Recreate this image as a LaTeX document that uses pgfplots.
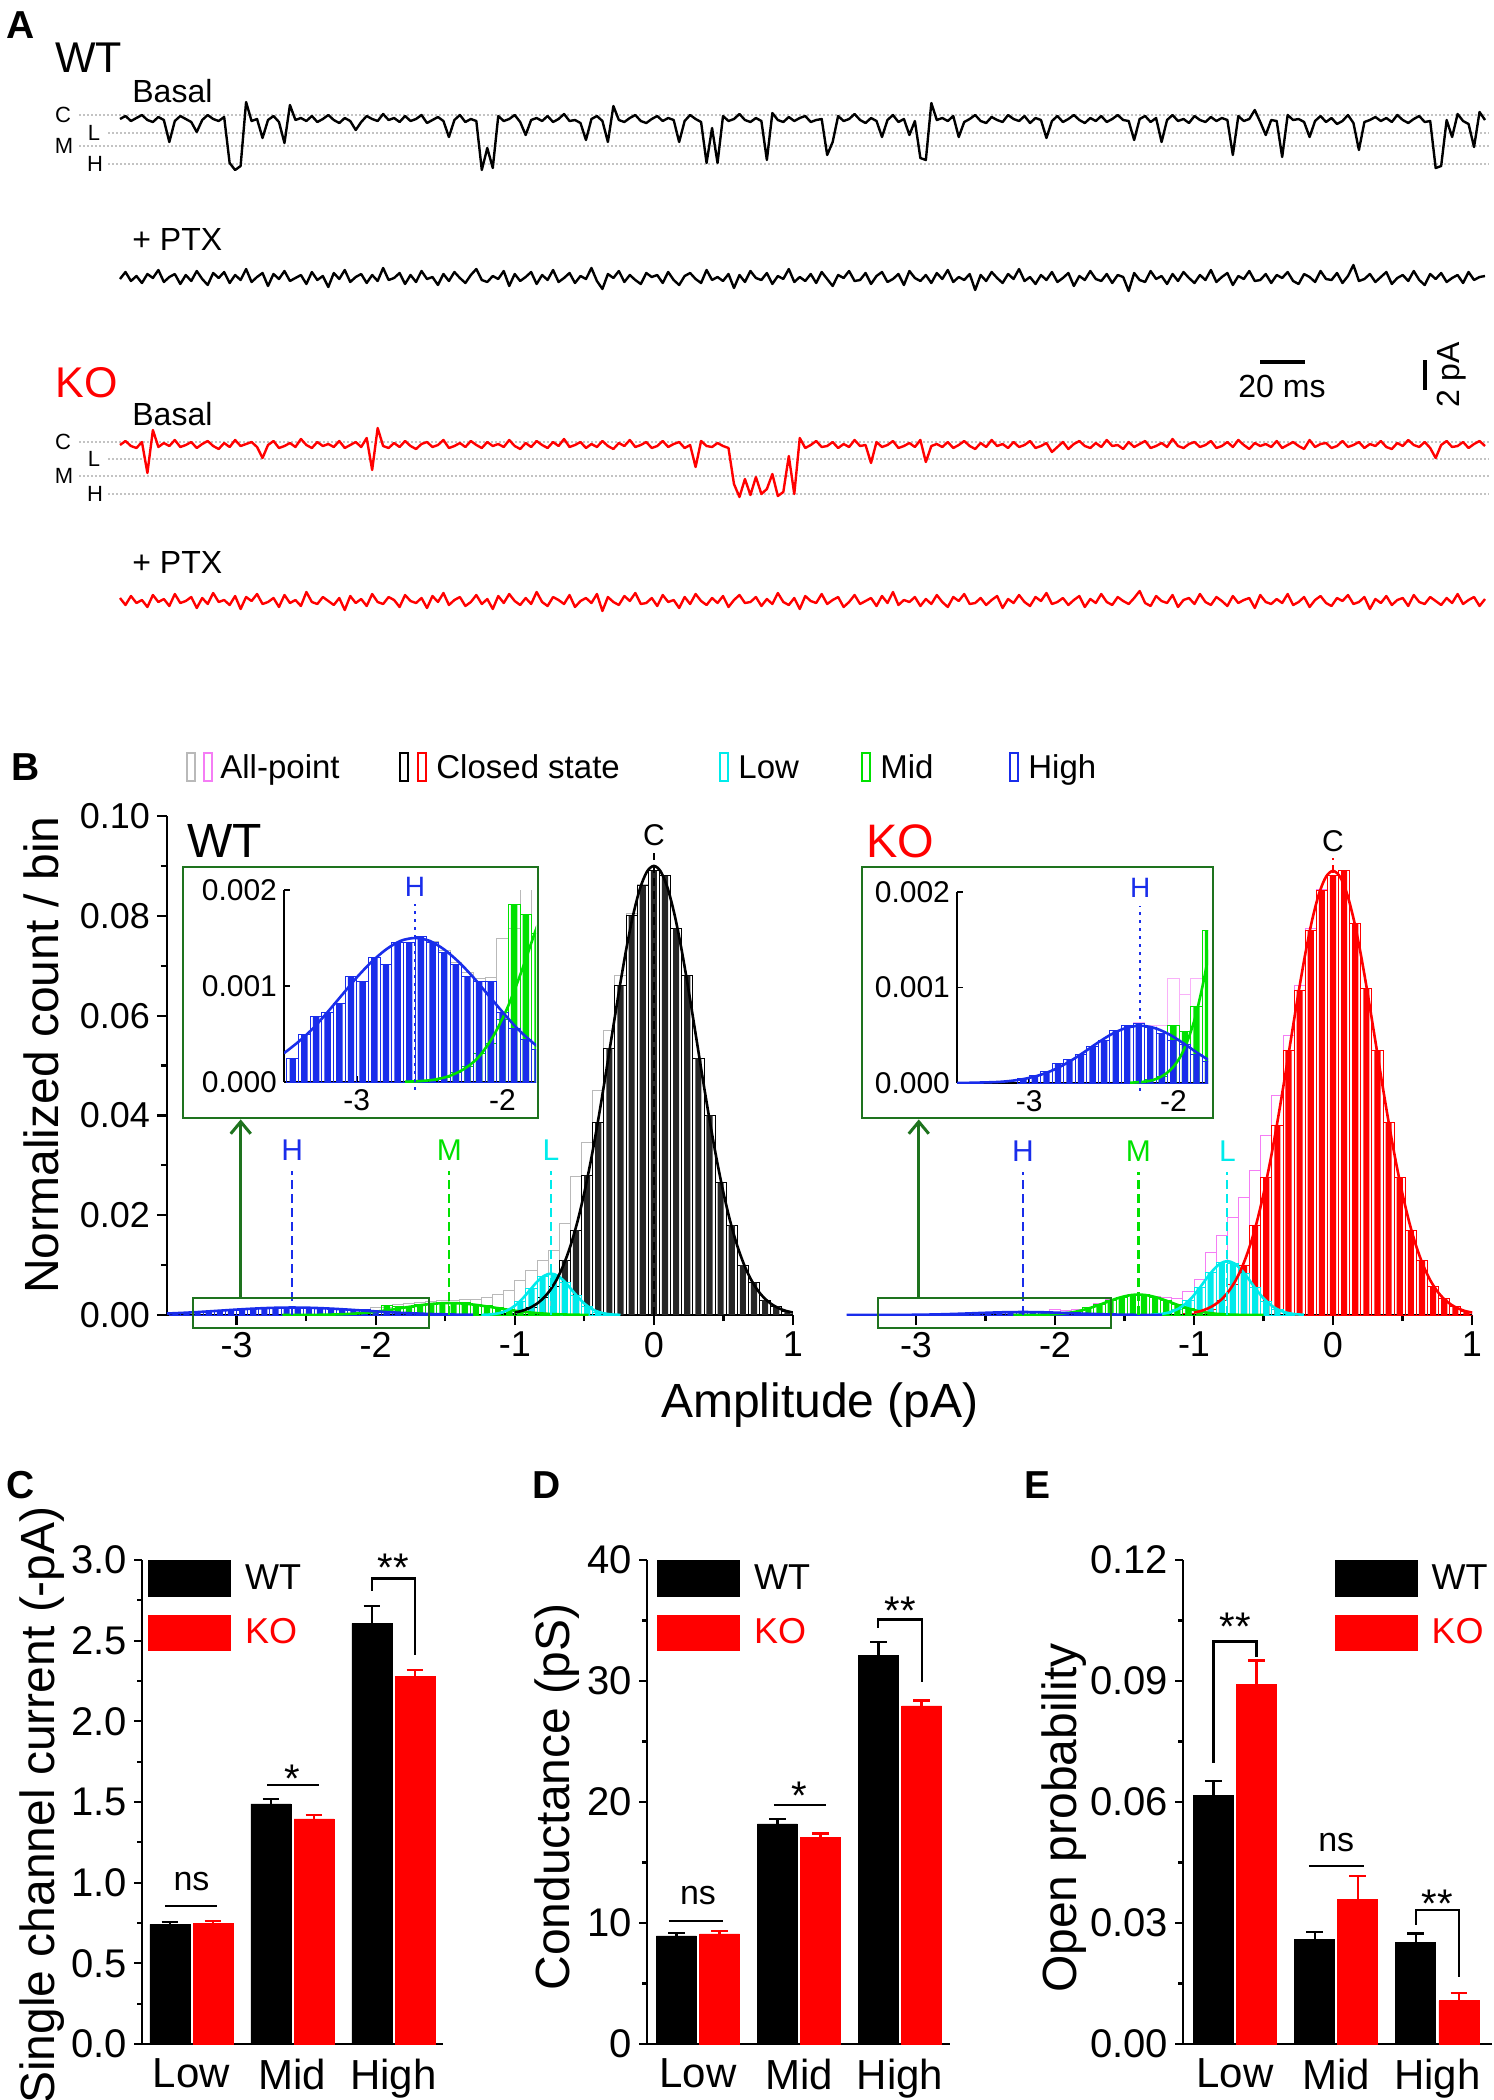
\documentclass[border=0pt]{standalone}
\usepackage{pgfplots}
\pgfplotsset{compat=1.18}
\usepackage{pgfplotstable}
\usepackage{fontspec}
\setmainfont{Liberation Sans}
\usetikzlibrary{arrows.meta}
\newcommand{\fs}[1]{\fontsize{#1}{#1}\selectfont}
\definecolor{lvl}{RGB}{195,195,195}
\definecolor{dg}{RGB}{30,115,30}
\definecolor{cy}{RGB}{0,235,235}
\definecolor{gr}{RGB}{0,225,0}
\definecolor{bl}{RGB}{25,45,235}
\definecolor{mg}{RGB}{245,125,245}
\definecolor{gy}{RGB}{185,185,185}
\pgfplotsset{
  hout/.style={ybar, bar width=0.08, bar shift=0pt, fill=none, line width=0.45pt},
  hfill/.style={ybar, bar width=0.044, bar shift=0pt, draw=none},
  fitc/.style={line width=1.3pt, smooth, no marks},
  trace/.style={anchor=north west, width=682.5pt, scale only axis, hide axis, enlarge x limits=false, y dir=reverse, clip=false},
  barpanel/.style={anchor=south west, height=242pt, scale only axis, ymin=0,
    axis x line*=bottom, axis y line*=left, axis line style={line width=1.2pt},
    xtick={0,1,2}, xticklabels={Low,Mid,High}, xtick style={draw=none},
    xticklabel style={font=\fs{21}},
    yticklabel style={font=\fs{20}}, scaled y ticks=false,
    minor y tick num=1, tick align=outside, major tick length=4pt, minor tick length=2.5pt,
    ytick style={line width=1.1pt, black}, clip=false,
    legend image code/.code={\fill[##1] (0pt,-8.85pt) rectangle (41pt,8.85pt);},
    legend style={draw=none, fill=none, inner sep=0pt, font=\fs{18}, row sep=9pt,
      /tikz/every odd column/.append style={column sep=5pt}},
    legend cell align=left},
  wtbar/.style={ybar, bar width=0.396, bar shift=0pt, fill=black, draw=black, forget plot,
    error bars/.cd, y dir=plus, y explicit, error bar style={line width=1.2pt, black},
    error mark options={rotate=90, mark size=4.2pt, line width=1.2pt, black}},
  kobar/.style={ybar, bar width=0.396, bar shift=0pt, fill=red, draw=red, forget plot,
    error bars/.cd, y dir=plus, y explicit, error bar style={line width=1.2pt, red},
    error mark options={rotate=90, mark size=4.2pt, line width=1.2pt, red}},
}
\pgfplotstableread{
x all closed low mid high
-3.44 0.00025 nan nan nan 0.00025
-3.36 0.0005 nan nan nan 0.0005
-3.28 0.00068 nan nan nan 0.00068
-3.20 0.00072 nan nan nan 0.00072
-3.12 0.00082 nan nan nan 0.00082
-3.04 0.0011 nan nan nan 0.0011
-2.96 0.00105 nan nan nan 0.00105
-2.88 0.0013 nan nan nan 0.0013
-2.80 0.00122 nan nan nan 0.00122
-2.72 0.00145 nan nan nan 0.00145
-2.64 0.00145 nan nan nan 0.00145
-2.56 0.00152 nan nan nan 0.00152
-2.48 0.00146 nan nan 0.00002 0.00145
-2.40 0.00137 nan nan 0.00005 0.00135
-2.32 0.00125 nan nan 0.0001 0.00122
-2.24 0.00114 nan nan 0.00016 0.0011
-2.16 0.00108 nan nan 0.0003 0.00105
-2.08 0.00109 nan nan 0.0004 0.00105
-2.00 0.0015 nan nan 0.00065 0.00072
-1.92 0.0016 nan nan 0.00185 0.00056
-1.84 0.0022 nan nan 0.00175 0.00044
-1.76 0.0023 nan nan 0.00155 0.00034
-1.68 0.0026 nan nan 0.0021 0.00025
-1.60 0.0028 nan nan 0.0024 0.00018
-1.52 0.0029 nan nan 0.0026 0.00012
-1.44 0.0030 nan nan 0.0023 0.00008
-1.36 0.0031 nan nan 0.0025 nan
-1.28 0.0032 nan nan 0.0021 nan
-1.20 0.0035 nan 0.0001 0.0019 nan
-1.12 0.0042 nan 0.0003 0.0016 nan
-1.04 0.0050 0.0003 0.0011 0.0012 nan
-0.96 0.0070 0.0007 0.0028 0.0009 nan
-0.88 0.0090 0.0015 0.0054 0.0006 nan
-0.80 0.0110 0.0035 0.0077 0.0004 nan
-0.72 0.0130 0.0058 0.0082 0.0002 nan
-0.64 0.0184 0.0110 0.0066 nan nan
-0.56 0.0277 0.0170 0.0040 nan nan
-0.48 0.0345 0.0280 0.0018 nan nan
-0.40 0.0450 0.0385 0.0006 nan nan
-0.32 0.0570 0.0535 0.0002 nan nan
-0.24 0.0680 0.0660 nan nan nan
-0.16 0.0805 0.0800 nan nan nan
-0.08 0.0862 0.0860 nan nan nan
0.00 0.0890 0.0890 nan nan nan
0.08 0.0880 0.0880 nan nan nan
0.16 0.0775 0.0775 nan nan nan
0.24 0.0680 0.0680 nan nan nan
0.32 0.0515 0.0515 nan nan nan
0.40 0.0400 0.0400 nan nan nan
0.48 0.0265 0.0265 nan nan nan
0.56 0.0180 0.0180 nan nan nan
0.64 0.0100 0.0100 nan nan nan
0.72 0.0065 0.0065 nan nan nan
0.80 0.0030 0.0030 nan nan nan
0.88 0.0018 0.0018 nan nan nan
0.96 0.0008 0.0008 nan nan nan
}\wthist
\pgfplotstableread{
x all closed low mid high
-3.04 0.00005 nan nan nan 0.00005
-2.96 0.00008 nan nan nan 0.00008
-2.88 0.00012 nan nan nan 0.00012
-2.80 0.0002 nan nan nan 0.0002
-2.72 0.00025 nan nan nan 0.00025
-2.64 0.0003 nan nan nan 0.0003
-2.56 0.00038 nan nan nan 0.00038
-2.48 0.00045 nan nan nan 0.00045
-2.40 0.00055 nan nan nan 0.00055
-2.32 0.0006 nan nan nan 0.0006
-2.24 0.00063 nan nan 0.00002 0.00062
-2.16 0.0006 nan nan 0.00004 0.00058
-2.08 0.0006 nan nan 0.00007 0.00052
-2.00 0.0011 nan nan 0.0006 0.00045
-1.92 0.00093 nan nan 0.00054 0.0004
-1.84 0.0011 nan nan 0.0008 0.0003
-1.76 0.0016 nan nan 0.0016 0.00023
-1.68 0.0024 nan nan 0.0022 0.00015
-1.60 0.0031 nan nan 0.0030 0.0001
-1.52 0.0036 nan nan 0.0035 nan
-1.44 0.0041 nan nan 0.0040 nan
-1.36 0.0042 nan nan 0.0041 nan
-1.28 0.0038 nan 0.0001 0.0036 nan
-1.20 0.0036 nan 0.0004 0.0030 nan
-1.12 0.0034 nan 0.0011 0.0021 nan
-1.04 0.0047 0.0003 0.0029 0.0013 nan
-0.96 0.0072 0.0007 0.0055 0.0008 nan
-0.88 0.0125 0.0012 0.0086 0.0004 nan
-0.80 0.0160 0.0030 0.0106 0.0002 nan
-0.72 0.0195 0.0062 0.0104 nan nan
-0.64 0.0235 0.0100 0.0083 nan nan
-0.56 0.0290 0.0180 0.0055 nan nan
-0.48 0.0360 0.0275 0.0028 nan nan
-0.40 0.0440 0.0380 0.0011 nan nan
-0.32 0.0560 0.0530 0.0004 nan nan
-0.24 0.0660 0.0650 nan nan nan
-0.16 0.0775 0.0770 nan nan nan
-0.08 0.0852 0.0850 nan nan nan
0.00 0.0880 0.0880 nan nan nan
0.08 0.0890 0.0890 nan nan nan
0.16 0.0785 0.0785 nan nan nan
0.24 0.0655 0.0655 nan nan nan
0.32 0.0530 0.0530 nan nan nan
0.40 0.0385 0.0385 nan nan nan
0.48 0.0275 0.0275 nan nan nan
0.56 0.0170 0.0170 nan nan nan
0.64 0.0110 0.0110 nan nan nan
0.72 0.0058 0.0058 nan nan nan
0.80 0.0033 0.0033 nan nan nan
0.88 0.0017 0.0017 nan nan nan
0.96 0.0008 0.0008 nan nan nan
}\kohist
\begin{document}
\begin{tikzpicture}
\path[use as bounding box] (0pt,0pt) rectangle (747pt,-1050pt);
% ================= Panel A =================
\node[anchor=base west, inner sep=0pt, font={\fs{19.5}\bfseries}] at (3pt,-19pt) {A};
\node[anchor=base west, inner sep=0pt, font=\fs{21.5}] at (27.5pt,-36pt) {WT};
\node[anchor=base west, inner sep=0pt, font=\fs{16}] at (66pt,-51pt) {Basal};
\node[anchor=base west, inner sep=0pt, font=\fs{16}] at (66pt,-125pt) {+ PTX};
\node[anchor=base west, inner sep=0pt, font=\fs{21.5}, text=red] at (27.5pt,-198.5pt) {KO};
\node[anchor=base west, inner sep=0pt, font=\fs{16}] at (66pt,-212.5pt) {Basal};
\node[anchor=base west, inner sep=0pt, font=\fs{16}] at (66pt,-286.5pt) {+ PTX};
\foreach \yy/\xx in {57.5/39.5, 66.5/54, 73/39.5, 82/54, 221/39.5, 229.5/54, 238/39.5, 247/54}{
  \draw[lvl, line width=0.6pt, dash pattern=on 1pt off 1pt] (\xx pt,-\yy pt) -- (744.5pt,-\yy pt);}
\foreach \yy/\xx/\tt in {57.5/31.5/C, 66.5/47/L, 73/32/M, 82/47.5/H, 221/31.5/C, 229.5/47/L, 238/32/M, 247/47.5/H}{
  \node[font=\fs{11}, inner sep=0pt] at (\xx pt,-\yy pt) {\tt};}
\draw[line width=1.7pt] (630pt,-181pt) -- (652.5pt,-181pt);
\node[anchor=base west, inner sep=0pt, font=\fs{16}] at (619pt,-198.5pt) {20 ms};
\draw[line width=1.7pt] (712.5pt,-180pt) -- (712.5pt,-195pt);
\node[rotate=90, inner sep=0pt, font=\fs{16}] at (726pt,-187.5pt) {2 pA};
% WT basal
\begin{axis}[trace, at={(60pt,-49pt)}, height=40pt, ymin=-20, ymax=60]
\addplot[black, line width=1.2pt, line join=round, no marks] table[x expr=\coordindex, y=v, row sep=crcr] {v\\1\\-2\\3\\0\\-3\\2\\4\\-1\\2\\24\\3\\-2\\1\\4\\14\\2\\-3\\1\\3\\-1\\45\\52\\48\\-16\\3\\1\\20\\2\\-2\\4\\25\\-13\\2\\0\\3\\-2\\4\\1\\-3\\2\\5\\0\\3\\12\\4\\-2\\1\\3\\-4\\2\\0\\4\\-2\\3\\1\\-3\\5\\2\\-1\\3\\19\\2\\-3\\4\\1\\3\\52\\30\\50\\-2\\3\\1\\-3\\4\\17\\2\\0\\3\\-2\\4\\1\\-4\\3\\2\\5\\22\\1\\-2\\3\\24\\-12\\2\\4\\0\\-3\\3\\5\\1\\-2\\3\\0\\2\\24\\3\\-3\\1\\4\\45\\10\\45\\-2\\3\\1\\-4\\2\\4\\0\\3\\42\\-5\\2\\4\\-1\\3\\0\\-2\\4\\2\\1\\37\\24\\-2\\3\\1\\-4\\2\\5\\0\\3\\19\\2\\-3\\4\\1\\17\\3\\40\\42\\-15\\2\\0\\3\\-2\\19\\4\\1\\-3\\3\\5\\-1\\2\\4\\-3\\1\\3\\-2\\5\\0\\2\\20\\3\\-2\\4\\1\\-3\\2\\5\\0\\3\\-2\\4\\1\\-3\\2\\3\\22\\1\\-2\\4\\0\\24\\2\\-3\\3\\1\\5\\-2\\2\\4\\-1\\3\\0\\2\\37\\-2\\3\\1\\-8\\4\\17\\2\\3\\39\\-3\\2\\1\\4\\19\\3\\-2\\4\\0\\6\\3\\-3\\5\\32\\4\\2\\-1\\3\\0\\4\\-3\\2\\5\\1\\-2\\4\\3\\50\\48\\2\\19\\-4\\3\\6\\29\\-6\\2\\};
\end{axis}
% WT PTX
\begin{axis}[trace, at={(60pt,-128.5pt)}, height=20pt, ymin=-20, ymax=20]
\addplot[black, line width=1.2pt, line join=round, no marks] table[x expr=\coordindex, y=v, row sep=crcr] {v\\2\\-5\\4\\-1\\6\\-3\\1\\-7\\5\\0\\-3\\7\\-2\\4\\-6\\2\\8\\-4\\1\\-5\\6\\-2\\3\\-8\\5\\0\\-4\\9\\-3\\2\\-6\\4\\1\\-2\\7\\-5\\3\\-1\\10\\-4\\2\\-7\\5\\0\\-3\\6\\-2\\4\\-9\\3\\1\\-4\\7\\-2\\5\\-6\\2\\0\\8\\-3\\4\\-5\\1\\6\\-2\\-8\\3\\5\\-1\\2\\-6\\9\\-3\\4\\0\\-5\\7\\-2\\3\\-7\\5\\1\\-4\\6\\-1\\2\\-9\\4\\12\\-3\\1\\-6\\5\\-2\\3\\7\\-4\\0\\-2\\6\\-5\\3\\8\\-1\\-4\\2\\6\\-7\\3\\0\\4\\-3\\11\\-2\\5\\-6\\1\\3\\-4\\7\\-1\\2\\-8\\5\\0\\4\\-3\\6\\-5\\2\\9\\-2\\1\\-6\\4\\3\\-4\\7\\-1\\-5\\5\\2\\-3\\8\\-6\\1\\4\\-2\\6\\-4\\2\\-7\\5\\0\\3\\-3\\13\\-2\\4\\-5\\1\\6\\-3\\2\\-8\\4\\0\\7\\-2\\3\\-5\\5\\1\\-4\\9\\-1\\3\\-6\\2\\4\\-3\\6\\-2\\0\\14\\-4\\3\\5\\-6\\2\\-1\\7\\-3\\4\\-5\\1\\6\\-2\\3\\-7\\5\\0\\-4\\8\\-1\\2\\-6\\4\\3\\-3\\6\\-2\\1\\-5\\4\\7\\-3\\0\\5\\-6\\2\\3\\-4\\6\\-1\\-12\\4\\2\\-3\\5\\0\\-5\\7\\1\\-2\\4\\-6\\3\\8\\-3\\2\\-4\\5\\1\\-2\\6\\-5\\3\\0\\-1\\};
\end{axis}
% KO basal
\begin{axis}[trace, at={(60pt,-212pt)}, height=40pt, ymin=-20, ymax=60]
\addplot[red, line width=1.2pt, line join=round, no marks] table[x expr=\coordindex, y=v, row sep=crcr] {v\\1\\-3\\2\\4\\-2\\29\\-14\\3\\-1\\2\\-4\\3\\1\\-2\\4\\0\\-3\\2\\5\\-1\\3\\-4\\2\\0\\-2\\3\\14\\1\\-3\\4\\2\\-1\\3\\-5\\1\\4\\-2\\2\\0\\3\\-3\\4\\1\\-2\\3\\-6\\26\\-16\\2\\4\\-1\\3\\-3\\2\\5\\0\\-2\\3\\1\\-4\\4\\2\\-1\\3\\-3\\1\\4\\-2\\2\\0\\3\\-4\\2\\5\\-1\\3\\-3\\1\\4\\-2\\2\\-5\\3\\1\\-2\\4\\0\\3\\-3\\2\\5\\-1\\2\\-4\\3\\1\\-2\\4\\2\\-3\\3\\0\\-2\\4\\1\\23\\-3\\2\\3\\-1\\2\\4\\40\\53\\35\\51\\33\\50\\45\\30\\52\\48\\12\\50\\-6\\4\\1\\-3\\3\\2\\-2\\4\\0\\3\\-4\\2\\1\\19\\-2\\3\\1\\-3\\4\\2\\-1\\3\\-4\\18\\2\\0\\3\\-2\\4\\1\\-3\\2\\5\\-1\\3\\-4\\2\\0\\4\\-2\\3\\1\\-3\\4\\2\\-1\\8\\3\\-2\\5\\0\\-3\\2\\4\\-1\\3\\-4\\2\\1\\5\\-2\\3\\0\\-3\\4\\2\\-1\\3\\-5\\2\\4\\0\\-2\\3\\1\\-3\\4\\2\\-2\\3\\-4\\1\\5\\-1\\2\\0\\3\\-3\\4\\1\\-2\\2\\5\\-4\\3\\0\\-1\\4\\2\\-3\\3\\1\\-2\\4\\0\\2\\-3\\3\\5\\-1\\2\\-4\\1\\3\\-2\\4\\14\\1\\-3\\3\\2\\-2\\4\\0\\-3\\2\\};
\end{axis}
% KO PTX
\begin{axis}[trace, at={(60pt,-290pt)}, height=20pt, ymin=-20, ymax=20]
\addplot[red, line width=1.2pt, line join=round, no marks] table[x expr=\coordindex, y=v, row sep=crcr] {v\\-2\\5\\-4\\3\\0\\7\\-5\\2\\-1\\6\\-6\\3\\1\\-3\\8\\-2\\4\\-7\\2\\0\\5\\-4\\9\\-3\\1\\-6\\4\\2\\-2\\7\\-5\\3\\0\\6\\-8\\2\\4\\-3\\1\\5\\-2\\10\\-4\\3\\-1\\6\\-6\\2\\4\\-3\\0\\7\\-5\\1\\3\\-2\\8\\-4\\2\\-7\\5\\0\\-3\\6\\2\\-5\\4\\-1\\9\\-4\\3\\-6\\1\\5\\-2\\4\\-8\\2\\6\\-3\\0\\4\\-5\\7\\1\\-2\\3\\-6\\11\\-3\\2\\5\\-4\\1\\-7\\4\\3\\-2\\6\\-5\\2\\0\\8\\-3\\4\\-6\\1\\5\\-2\\3\\-4\\7\\0\\-5\\3\\2\\-3\\6\\-1\\4\\-7\\2\\5\\-2\\9\\-4\\1\\3\\-6\\4\\0\\-3\\7\\2\\-5\\4\\1\\-2\\6\\-4\\3\\-8\\5\\0\\2\\-3\\6\\-1\\4\\-5\\2\\7\\-3\\1\\-6\\4\\3\\-2\\5\\0\\-4\\8\\-1\\3\\-5\\2\\6\\-3\\1\\-7\\4\\2\\-2\\5\\0\\-4\\7\\-1\\3\\-6\\2\\5\\-3\\1\\4\\-2\\-9\\3\\6\\-4\\1\\3\\-5\\7\\0\\-2\\4\\-6\\2\\5\\-3\\1\\6\\-4\\3\\0\\-2\\8\\-5\\2\\4\\-1\\3\\-6\\5\\2\\-3\\7\\0\\-4\\3\\6\\-2\\1\\-5\\4\\2\\-3\\9\\-1\\3\\-4\\5\\0\\-2\\6\\-5\\2\\4\\-3\\1\\5\\-2\\3\\-6\\4\\0\\-3\\6\\-1\\};
\end{axis}
% ================= Panel B =================
\node[anchor=base west, inner sep=0pt, font={\fs{19.5}\bfseries}] at (5.5pt,-390pt) {B};
\draw[gy, line width=1.4pt] (93.5pt,-376.5pt) rectangle (97.5pt,-390.5pt);
\draw[mg, line width=1.4pt] (102pt,-376.5pt) rectangle (106pt,-390.5pt);
\node[anchor=base west, inner sep=0pt, font=\fs{16.5}] at (110pt,-389pt) {All-point};
\draw[black, line width=1.4pt] (200pt,-376.5pt) rectangle (204pt,-390.5pt);
\draw[red, line width=1.4pt] (209pt,-376.5pt) rectangle (213pt,-390.5pt);
\node[anchor=base west, inner sep=0pt, font=\fs{16.5}] at (218pt,-389pt) {Closed state};
\draw[cy, line width=1.4pt] (360pt,-376.5pt) rectangle (364pt,-390.5pt);
\node[anchor=base west, inner sep=0pt, font=\fs{16.5}] at (369pt,-389pt) {Low};
\draw[gr, line width=1.4pt] (431pt,-376.5pt) rectangle (435pt,-390.5pt);
\node[anchor=base west, inner sep=0pt, font=\fs{16.5}] at (440pt,-389pt) {Mid};
\draw[bl, line width=1.4pt] (505pt,-376.5pt) rectangle (509pt,-390.5pt);
\node[anchor=base west, inner sep=0pt, font=\fs{16.5}] at (514pt,-389pt) {High};
\node[rotate=90, inner sep=0pt, font=\fs{24}] at (20.5pt,-527.5pt) {Normalized count / bin};
\node[inner sep=0pt, font=\fs{24}] at (410pt,-702.5pt) {Amplitude (pA)};
% WT main
\begin{axis}[at={(83.5pt,-657.5pt)}, anchor=south west, width=313pt, height=249.5pt, scale only axis,
  xmin=-3.5, xmax=1, ymin=0, ymax=0.1,
  axis x line*=bottom, axis y line*=left, axis line style={line width=1.3pt},
  xtick={-3,-2,-1,0,1}, xticklabels={-3,-2,-1,0,1}, minor x tick num=1,
  ytick={0,0.02,0.04,0.06,0.08,0.1}, yticklabels={0.00,0.02,0.04,0.06,0.08,0.10}, minor y tick num=1,
  scaled y ticks=false,
  tick align=outside, major tick length=5pt, minor tick length=3pt,
  tick style={line width=1.1pt, black}, tick label style={font=\fs{18}},
  clip mode=individual]
\addplot[hout, draw=gy] table[x=x,y=all] {\wthist};
\addplot[hout, draw=black] table[x=x,y=closed] {\wthist};
\addplot[hfill, fill=black!85] table[x=x,y=closed] {\wthist};
\addplot[hout, draw=cy] table[x=x,y=low] {\wthist};
\addplot[hfill, fill=cy] table[x=x,y=low] {\wthist};
\addplot[hout, draw=gr] table[x=x,y=mid] {\wthist};
\addplot[hfill, fill=gr] table[x=x,y=mid] {\wthist};
\addplot[hout, draw=bl] table[x=x,y=high] {\wthist};
\addplot[hfill, fill=bl] table[x=x,y=high] {\wthist};
\addplot[fitc, gr] coordinates {(-2.67,0.0000032) (-2.57,0.0000093) (-2.47,0.000024) (-2.37,0.00006) (-2.27,0.00013) (-2.17,0.00025) (-2.07,0.00046) (-1.97,0.00076) (-1.87,0.00115) (-1.77,0.00159) (-1.67,0.002) (-1.57,0.00229) (-1.47,0.0024) (-1.37,0.00229) (-1.27,0.002) (-1.17,0.00159) (-1.07,0.00115) (-0.97,0.00076) (-0.87,0.00046) (-0.77,0.00025) (-0.67,0.00013) (-0.57,0.00006) (-0.47,0.000024)};
\addplot[fitc, cy] coordinates {(-1.24,0.00003) (-1.19,0.00009) (-1.14,0.00024) (-1.09,0.00055) (-1.04,0.00112) (-0.99,0.00207) (-0.94,0.00341) (-0.89,0.00503) (-0.84,0.00665) (-0.79,0.00785) (-0.74,0.0083) (-0.69,0.00785) (-0.64,0.00665) (-0.59,0.00503) (-0.54,0.00341) (-0.49,0.00207) (-0.44,0.00112) (-0.39,0.00055) (-0.34,0.00024) (-0.29,0.00009) (-0.24,0.00003)};
\addplot[fitc, black] coordinates {(-1,0.0005) (-0.95,0.00082) (-0.9,0.00133) (-0.85,0.0021) (-0.8,0.00322) (-0.75,0.00482) (-0.7,0.00703) (-0.65,0.00999) (-0.6,0.01383) (-0.55,0.01865) (-0.5,0.02451) (-0.45,0.03138) (-0.4,0.03915) (-0.35,0.04758) (-0.3,0.05635) (-0.25,0.06501) (-0.2,0.07309) (-0.15,0.08006) (-0.1,0.08544) (-0.05,0.08884) (0,0.09) (0.05,0.08884) (0.1,0.08544) (0.15,0.08006) (0.2,0.07309) (0.25,0.06501) (0.3,0.05635) (0.35,0.04758) (0.4,0.03915) (0.45,0.03138) (0.5,0.02451) (0.55,0.01865) (0.6,0.01383) (0.65,0.00999) (0.7,0.00703) (0.75,0.00482) (0.8,0.00322) (0.85,0.0021) (0.9,0.00133) (0.95,0.00082) (1,0.0005)};
\addplot[fitc, bl] coordinates {(-3.5,0.0003) (-3.4,0.00042) (-3.3,0.00056) (-3.2,0.00073) (-3.1,0.00091) (-3.0,0.00109) (-2.9,0.00125) (-2.8,0.00138) (-2.7,0.00147) (-2.6,0.0015) (-2.5,0.00147) (-2.4,0.00138) (-2.3,0.00125) (-2.2,0.00109) (-2.1,0.00091) (-2.0,0.00073) (-1.9,0.00056) (-1.8,0.00042) (-1.7,0.0003) (-1.6,0.0002) (-1.5,0.00013) (-1.4,0.00008) (-1.3,0.00005)};
\draw[black, line width=1pt, dash pattern=on 4pt off 2.5pt] (axis cs:0,0) -- (axis cs:0,0.0925);
\node[anchor=base, inner sep=0pt, font=\fs{15}] at (axis cs:0,0.094) {C};
\draw[bl, line width=1.1pt, dash pattern=on 4.5pt off 2.5pt] (axis cs:-2.6,0) -- (axis cs:-2.6,0.0288);
\node[anchor=base, inner sep=0pt, font=\fs{15}, text=bl] at (axis cs:-2.6,0.0309) {H};
\draw[gr, line width=1.1pt, dash pattern=on 4.5pt off 2.5pt] (axis cs:-1.47,0) -- (axis cs:-1.47,0.0288);
\node[anchor=base, inner sep=0pt, font=\fs{15}, text=gr] at (axis cs:-1.47,0.0309) {M};
\draw[cy, line width=1.1pt, dash pattern=on 4.5pt off 2.5pt] (axis cs:-0.74,0) -- (axis cs:-0.74,0.0288);
\node[anchor=base, inner sep=0pt, font=\fs{15}, text=cy] at (axis cs:-0.74,0.0309) {L};
\draw[dg, line width=1pt] (axis cs:-3.31,-0.0026) rectangle (axis cs:-1.62,0.0034);
\draw[dg, line width=1.5pt, -{Straight Barb[length=6pt,width=10pt]}] (axis cs:-2.97,0.0034) -- (axis cs:-2.97,0.0392);
\end{axis}
\node[anchor=base west, inner sep=0pt, font=\fs{24}] at (93.5pt,-428.5pt) {WT};
\draw[dg, line width=1.2pt, fill=white] (91.5pt,-433.5pt) rectangle (269pt,-559pt);
% WT inset
\begin{axis}[at={(142pt,-541pt)}, anchor=south west, width=126pt, height=96pt, scale only axis,
  xmin=-3.5, xmax=-1.77, ymin=0, ymax=0.002,
  axis x line*=bottom, axis y line*=left, axis line style={line width=1.1pt},
  xtick={-3,-2}, xticklabels={-3,-2}, ytick={0,0.001,0.002}, yticklabels={0.000,0.001,0.002},
  scaled y ticks=false,
  tick label style={font=\fs{15}}, tick align=inside, major tick length=3pt,
  tick style={line width=0.8pt, black}, clip mode=individual]
\addplot[hout, draw=gy] table[x=x,y=all] {\wthist};
\addplot[hout, draw=gr] table[x=x,y=mid] {\wthist};
\addplot[hfill, fill=gr] table[x=x,y=mid] {\wthist};
\addplot[hout, draw=bl] table[x=x,y=high] {\wthist};
\addplot[hfill, fill=bl] table[x=x,y=high] {\wthist};
\addplot[fitc, gr] coordinates {(-2.67,0.0000032) (-2.57,0.0000093) (-2.47,0.000024) (-2.37,0.00006) (-2.27,0.00013) (-2.17,0.00025) (-2.07,0.00046) (-1.97,0.00076) (-1.87,0.00115) (-1.77,0.00159) (-1.67,0.002)};
\addplot[fitc, bl] coordinates {(-3.5,0.0003) (-3.4,0.00042) (-3.3,0.00056) (-3.2,0.00073) (-3.1,0.00091) (-3.0,0.00109) (-2.9,0.00125) (-2.8,0.00138) (-2.7,0.00147) (-2.6,0.0015) (-2.5,0.00147) (-2.4,0.00138) (-2.3,0.00125) (-2.2,0.00109) (-2.1,0.00091) (-2.0,0.00073) (-1.9,0.00056) (-1.8,0.00042) (-1.7,0.0003)};
\draw[bl, line width=1.2pt, dash pattern=on 1.5pt off 2.5pt] (axis cs:-2.6,-0.00008) -- (axis cs:-2.6,0.00185);
\node[anchor=base, inner sep=0pt, font=\fs{14}, text=bl] at (axis cs:-2.6,0.00193) {H};
\end{axis}
% KO main
\begin{axis}[at={(423.25pt,-657.5pt)}, anchor=south west, width=312.75pt, height=249.5pt, scale only axis,
  xmin=-3.5, xmax=1, ymin=0, ymax=0.1,
  axis x line*=bottom, axis y line=none, axis line style={line width=1.3pt},
  xtick={-3,-2,-1,0,1}, xticklabels={-3,-2,-1,0,1}, minor x tick num=1, ytick=\empty,
  tick align=outside, major tick length=5pt, minor tick length=3pt,
  tick style={line width=1.1pt, black}, tick label style={font=\fs{18}},
  clip mode=individual]
\addplot[hout, draw=mg] table[x=x,y=all] {\kohist};
\addplot[hout, draw=red] table[x=x,y=closed] {\kohist};
\addplot[hfill, fill=red] table[x=x,y=closed] {\kohist};
\addplot[hout, draw=cy] table[x=x,y=low] {\kohist};
\addplot[hfill, fill=cy] table[x=x,y=low] {\kohist};
\addplot[hout, draw=gr] table[x=x,y=mid] {\kohist};
\addplot[hfill, fill=gr] table[x=x,y=mid] {\kohist};
\addplot[hout, draw=bl] table[x=x,y=high] {\kohist};
\addplot[hfill, fill=bl] table[x=x,y=high] {\kohist};
\addplot[fitc, gr] coordinates {(-2.3,0.000003) (-2.2,0.000014) (-2.15,0.000028) (-2.1,0.000054) (-2.05,0.0001) (-2.0,0.00017) (-1.95,0.00028) (-1.9,0.00045) (-1.85,0.00068) (-1.8,0.001) (-1.75,0.00139) (-1.7,0.00185) (-1.65,0.00236) (-1.6,0.00288) (-1.55,0.00336) (-1.5,0.00375) (-1.45,0.00401) (-1.4,0.0041) (-1.35,0.00401) (-1.3,0.00375) (-1.25,0.00336) (-1.2,0.00288) (-1.15,0.00236) (-1.1,0.00185) (-1.05,0.00139) (-1.0,0.001) (-0.95,0.00068) (-0.9,0.00045) (-0.85,0.00028) (-0.8,0.00017) (-0.75,0.0001) (-0.7,0.000054) (-0.6,0.000014) (-0.5,0.000003)};
\addplot[fitc, cy] coordinates {(-1.31,0.00006) (-1.26,0.00014) (-1.21,0.00033) (-1.16,0.00068) (-1.11,0.0013) (-1.06,0.00228) (-1.01,0.00366) (-0.96,0.00541) (-0.91,0.00732) (-0.86,0.00908) (-0.81,0.01034) (-0.76,0.0108) (-0.71,0.01034) (-0.66,0.00908) (-0.61,0.00732) (-0.56,0.00541) (-0.51,0.00366) (-0.46,0.00228) (-0.41,0.0013) (-0.36,0.00068) (-0.31,0.00033) (-0.26,0.00014) (-0.21,0.00006)};
\addplot[fitc, red] coordinates {(-1,0.00049) (-0.95,0.00081) (-0.9,0.00132) (-0.85,0.00208) (-0.8,0.00318) (-0.75,0.00477) (-0.7,0.00695) (-0.65,0.00988) (-0.6,0.01368) (-0.55,0.01844) (-0.5,0.02424) (-0.45,0.03103) (-0.4,0.03871) (-0.35,0.04705) (-0.3,0.05572) (-0.25,0.06429) (-0.2,0.07228) (-0.15,0.07917) (-0.1,0.08449) (-0.05,0.08785) (0,0.089) (0.05,0.08785) (0.1,0.08449) (0.15,0.07917) (0.2,0.07228) (0.25,0.06429) (0.3,0.05572) (0.35,0.04705) (0.4,0.03871) (0.45,0.03103) (0.5,0.02424) (0.55,0.01844) (0.6,0.01368) (0.65,0.00988) (0.7,0.00695) (0.75,0.00477) (0.8,0.00318) (0.85,0.00208) (0.9,0.00132) (0.95,0.00081) (1,0.00049)};
\addplot[fitc, bl] coordinates {(-3.5,0.0000005) (-3.43,0.0000017) (-3.23,0.00001) (-3.13,0.000022) (-3.03,0.000044) (-2.93,0.000081) (-2.83,0.000138) (-2.73,0.000216) (-2.63,0.000312) (-2.53,0.000416) (-2.43,0.00051) (-2.33,0.000576) (-2.23,0.0006) (-2.13,0.000576) (-2.03,0.00051) (-1.93,0.000416) (-1.83,0.000312) (-1.73,0.000216) (-1.63,0.000138) (-1.53,0.000081) (-1.43,0.000044) (-1.33,0.000022) (-1.23,0.00001)};
\draw[red, line width=1pt, dash pattern=on 4pt off 2.5pt] (axis cs:0,0) -- (axis cs:0,0.0915);
\node[anchor=base, inner sep=0pt, font=\fs{15}] at (axis cs:0,0.0928) {C};
\draw[bl, line width=1.1pt, dash pattern=on 4.5pt off 2.5pt] (axis cs:-2.23,0) -- (axis cs:-2.23,0.0286);
\node[anchor=base, inner sep=0pt, font=\fs{15}, text=bl] at (axis cs:-2.23,0.0307) {H};
\draw[gr, line width=1.1pt, dash pattern=on 4.5pt off 2.5pt] (axis cs:-1.40,0) -- (axis cs:-1.40,0.0286);
\node[anchor=base, inner sep=0pt, font=\fs{15}, text=gr] at (axis cs:-1.40,0.0307) {M};
\draw[cy, line width=1.1pt, dash pattern=on 4.5pt off 2.5pt] (axis cs:-0.76,0) -- (axis cs:-0.76,0.0286);
\node[anchor=base, inner sep=0pt, font=\fs{15}, text=cy] at (axis cs:-0.76,0.0307) {L};
\draw[dg, line width=1pt] (axis cs:-3.27,-0.0026) rectangle (axis cs:-1.6,0.0034);
\draw[dg, line width=1.5pt, -{Straight Barb[length=6pt,width=10pt]}] (axis cs:-2.98,0.0034) -- (axis cs:-2.98,0.0392);
\end{axis}
\node[anchor=base west, inner sep=0pt, font=\fs{23.5}, text=red] at (433pt,-428.5pt) {KO};
\draw[dg, line width=1.2pt, fill=white] (431pt,-433.5pt) rectangle (606.5pt,-559pt);
% KO inset
\begin{axis}[at={(478.5pt,-541.5pt)}, anchor=south west, width=125.5pt, height=95.5pt, scale only axis,
  xmin=-3.5, xmax=-1.76, ymin=0, ymax=0.002,
  axis x line*=bottom, axis y line*=left, axis line style={line width=1.1pt},
  xtick={-3,-2}, xticklabels={-3,-2}, ytick={0,0.001,0.002}, yticklabels={0.000,0.001,0.002},
  scaled y ticks=false,
  tick label style={font=\fs{15}}, tick align=inside, major tick length=3pt,
  tick style={line width=0.8pt, black}, clip mode=individual]
\addplot[hout, draw=mg!60] table[x=x,y=all] {\kohist};
\addplot[hout, draw=gr] table[x=x,y=mid] {\kohist};
\addplot[hfill, fill=gr] table[x=x,y=mid] {\kohist};
\addplot[hout, draw=bl] table[x=x,y=high] {\kohist};
\addplot[hfill, fill=bl] table[x=x,y=high] {\kohist};
\addplot[fitc, gr] coordinates {(-2.3,0.000003) (-2.2,0.000014) (-2.15,0.000028) (-2.1,0.000054) (-2.05,0.0001) (-2.0,0.00017) (-1.95,0.00028) (-1.9,0.00045) (-1.85,0.00068) (-1.8,0.001) (-1.75,0.00139) (-1.7,0.00185)};
\addplot[fitc, bl] coordinates {(-3.5,0.0000005) (-3.43,0.0000017) (-3.23,0.00001) (-3.13,0.000022) (-3.03,0.000044) (-2.93,0.000081) (-2.83,0.000138) (-2.73,0.000216) (-2.63,0.000312) (-2.53,0.000416) (-2.43,0.00051) (-2.33,0.000576) (-2.23,0.0006) (-2.13,0.000576) (-2.03,0.00051) (-1.93,0.000416) (-1.83,0.000312) (-1.73,0.000216)};
\draw[bl, line width=1.2pt, dash pattern=on 1.5pt off 2.5pt] (axis cs:-2.23,-0.00008) -- (axis cs:-2.23,0.00185);
\node[anchor=base, inner sep=0pt, font=\fs{14}, text=bl] at (axis cs:-2.23,0.00194) {H};
\end{axis}
% ================= Panels C D E =================
\node[anchor=base west, inner sep=0pt, font={\fs{19.5}\bfseries}] at (3pt,-749pt) {C};
\node[anchor=base west, inner sep=0pt, font={\fs{19.5}\bfseries}] at (266pt,-749pt) {D};
\node[anchor=base west, inner sep=0pt, font={\fs{19.5}\bfseries}] at (512pt,-749pt) {E};
\node[rotate=90, inner sep=0pt, font=\fs{24}] at (21pt,-902.5pt) {Single channel current (-pA)};
\node[rotate=90, inner sep=0pt, font=\fs{24}] at (278.5pt,-898.5pt) {Conductance (pS)};
\node[rotate=90, inner sep=0pt, font=\fs{24}] at (532pt,-909pt) {Open probability};
% C
\begin{axis}[barpanel, at={(71pt,-1022pt)}, width=150.5pt, xmin=-0.49, xmax=2.49, ymax=3.0,
  ytick={0,0.5,1,1.5,2,2.5,3}, yticklabels={0.0,0.5,1.0,1.5,2.0,2.5,3.0},
  legend style={at={(0.02,1)}, anchor=north west}]
\addplot[wtbar] coordinates {(-0.213,0.741) +- (0,0.015) (0.787,1.488) +- (0,0.031) (1.787,2.608) +- (0,0.108)};
\addplot[kobar] coordinates {(0.213,0.75) +- (0,0.014) (1.213,1.395) +- (0,0.025) (2.213,2.278) +- (0,0.04)};
\addlegendimage{black}\addlegendentry{WT}
\addlegendimage{red}\addlegendentry{\textcolor{red}{KO}}
\addplot[black, line width=1.2pt, forget plot] coordinates {(-0.26,0.855) (0.25,0.855)};
\addplot[black, line width=1.2pt, forget plot] coordinates {(0.75,1.605) (1.26,1.605)};
\addplot[black, line width=1.2pt, forget plot] coordinates {(1.787,2.81) (1.787,2.885) (2.213,2.885) (2.213,2.41)};
\node[font=\fs{17}] at (axis cs:0,1.01) {ns};
\node[font=\fs{20}] at (axis cs:1,1.645) {*};
\node[font=\fs{20}] at (axis cs:2,2.955) {**};
\end{axis}
% D
\begin{axis}[barpanel, at={(323.5pt,-1022pt)}, width=151.5pt, xmin=-0.505, xmax=2.495, ymax=40,
  ytick={0,10,20,30,40}, yticklabels={0,10,20,30,40},
  legend style={at={(0.033,1)}, anchor=north west}]
\addplot[wtbar] coordinates {(-0.213,8.93) +- (0,0.25) (0.787,18.19) +- (0,0.41) (1.787,32.1) +- (0,1.15)};
\addplot[kobar] coordinates {(0.213,9.1) +- (0,0.24) (1.213,17.08) +- (0,0.33) (2.213,27.94) +- (0,0.45)};
\addlegendimage{black}\addlegendentry{WT}
\addlegendimage{red}\addlegendentry{\textcolor{red}{KO}}
\addplot[black, line width=1.2pt, forget plot] coordinates {(-0.29,10.16) (0.25,10.16)};
\addplot[black, line width=1.2pt, forget plot] coordinates {(0.75,19.75) (1.27,19.75)};
\addplot[black, line width=1.2pt, forget plot] coordinates {(1.78,34.4) (1.78,35.1) (2.22,35.1) (2.22,29.9)};
\node[font=\fs{17}] at (axis cs:0,12.3) {ns};
\node[font=\fs{20}] at (axis cs:1,20.5) {*};
\node[font=\fs{20}] at (axis cs:2,35.8) {**};
\end{axis}
% E
\begin{axis}[barpanel, at={(591.5pt,-1022pt)}, width=154.5pt, xmin=-0.515, xmax=2.54, ymax=0.12,
  ytick={0,0.03,0.06,0.09,0.12}, yticklabels={0.00,0.03,0.06,0.09,0.12},
  legend style={at={(1,1)}, anchor=north east}]
\addplot[wtbar] coordinates {(-0.213,0.0617) +- (0,0.0035) (0.787,0.026) +- (0,0.0018) (1.787,0.0251) +- (0,0.0023)};
\addplot[kobar] coordinates {(0.213,0.0891) +- (0,0.006) (1.213,0.0358) +- (0,0.0058) (2.213,0.0107) +- (0,0.0019)};
\addlegendimage{black}\addlegendentry{WT}
\addlegendimage{red}\addlegendentry{\textcolor{red}{KO}}
\addplot[black, line width=1.2pt, forget plot] coordinates {(-0.213,0.0698) (-0.213,0.0998) (0.213,0.0998) (0.213,0.0959)};
\addplot[black, line width=1.2pt, forget plot] coordinates {(0.73,0.0441) (1.27,0.0441)};
\addplot[black, line width=1.2pt, forget plot] coordinates {(1.787,0.0296) (1.787,0.0333) (2.213,0.0333) (2.213,0.0167)};
\node[font=\fs{20}] at (axis cs:0,0.1034) {**};
\node[font=\fs{17}] at (axis cs:1,0.05) {ns};
\node[font=\fs{20}] at (axis cs:2,0.0348) {**};
\end{axis}
\end{tikzpicture}
\end{document}
